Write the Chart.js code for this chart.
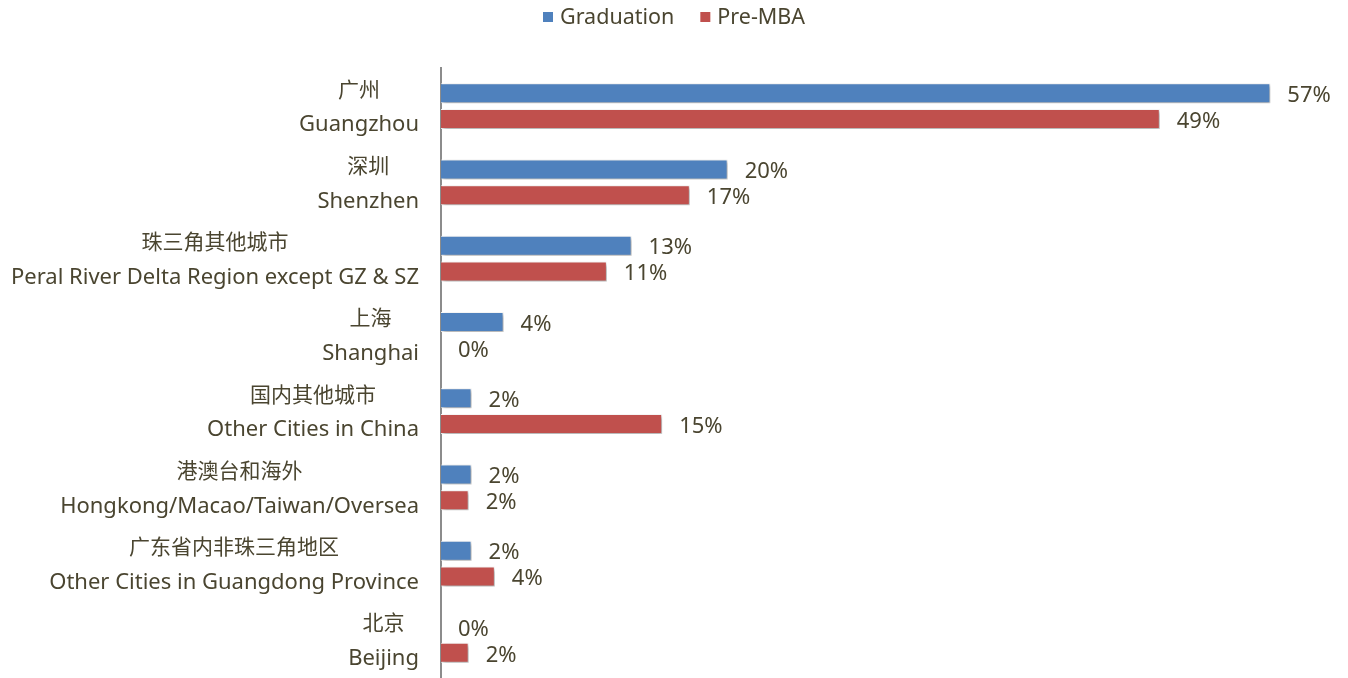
<!DOCTYPE html>
<html>
<head>
<meta charset="utf-8">
<script src="https://cdn.jsdelivr.net/npm/chart.js@4"></script>
<style>
    body { margin: 0; background: #fff; }
</style>
</head>
<body>
<canvas id="chart" width="1348" height="678"></canvas>
<script>
// categories: chinese line + english line
const catCn = ["广州", "深圳", "珠三角其他城市", "上海", "国内其他城市", "港澳台和海外", "广东省内非珠三角地区", "北京"];
const catEn = ["Guangzhou", "Shenzhen", "Peral River Delta Region except GZ & SZ", "Shanghai",
    "Other Cities in China", "Hongkong/Macao/Taiwan/Oversea", "Other Cities in Guangdong Province", "Beijing"];
const graduation = [57, 19.7, 13.1, 4.3, 2.1, 2.1, 2.1, 0];
const preMba = [49.4, 17.1, 11.4, 0, 15.2, 1.9, 3.7, 1.9];

const textColor = "#4a4530";
const latin = "'Noto Sans', 'Open Sans', sans-serif";
const cjk = "'Noto Sans CJK SC', sans-serif";

// shadow under bars
const barShadow = {
    id: "barShadow",
    beforeDatasetsDraw(chart) {
        const ctx = chart.ctx;
        ctx.save();
        ctx.shadowColor = "rgba(0,0,0,0.35)";
        ctx.shadowBlur = 4;
        ctx.shadowOffsetX = 2;
        ctx.shadowOffsetY = 2;
    },
    afterDatasetsDraw(chart) {
        chart.ctx.restore();
    }
};

// value labels, category labels and legend
const extras = {
    id: "extras",
    afterDraw(chart) {
        const ctx = chart.ctx;
        ctx.save();
        ctx.fillStyle = textColor;
        ctx.textBaseline = "middle";

        // value labels
        ctx.font = "22px " + latin;
        ctx.textAlign = "left";
        chart.data.datasets.forEach((ds, di) => {
            chart.getDatasetMeta(di).data.forEach((el, i) => {
                ctx.fillText(Math.round(ds.data[i]) + "%", el.x + 17, el.y + 2.5);
            });
        });

        // category labels
        const ys = chart.scales.y;
        const right = 419;
        catCn.forEach((cn, i) => {
            const y = ys.getPixelForValue(i);
            ctx.font = "22px " + cjk;
            const wCn = ctx.measureText(cn).width;
            ctx.font = "22px " + latin;
            const wEn = ctx.measureText(catEn[i]).width;
            const cx = right - Math.max(wCn, wEn) / 2;
            ctx.textAlign = "center";
            ctx.font = "21px " + cjk;
            ctx.fillText(cn, cx, y - 17.5);
            ctx.font = "22px " + latin;
            ctx.fillText(catEn[i], cx, y + 19);
        });

        // legend
        ctx.textAlign = "left";
        ctx.font = "21.5px " + latin;
        let x = 543;
        chart.data.datasets.forEach((ds) => {
            ctx.fillStyle = ds.backgroundColor;
            ctx.fillRect(x, 12, 10, 10);
            ctx.fillStyle = textColor;
            ctx.fillText(ds.label, x + 17, 17.5);
            x += 17 + ctx.measureText(ds.label).width + 26;
        });
        ctx.restore();
    }
};

new Chart(document.getElementById("chart"), {
    type: "bar",
    data: {
        labels: catEn,
        datasets: [{
            label: "Graduation",
            data: graduation,
            backgroundColor: "#4f81bd",
            borderColor: "rgba(255,255,255,0.9)",
            borderWidth: 1,
            categoryPercentage: 0.68,
            barPercentage: 0.77
        }, {
            label: "Pre-MBA",
            data: preMba,
            backgroundColor: "#c0504d",
            borderColor: "rgba(255,255,255,0.9)",
            borderWidth: 1,
            categoryPercentage: 0.68,
            barPercentage: 0.77
        }]
    },
    options: {
        indexAxis: "y",
        responsive: false,
        animation: false,
        layout: { padding: { top: 68, right: 34, bottom: 0, left: 0 } },
        plugins: {
            legend: { display: false },
            tooltip: { enabled: false }
        },
        scales: {
            x: { display: false, min: 0, max: 60 },
            y: {
                ticks: { display: false },
                grid: { display: false },
                border: { display: true, color: "#8c8c8c", width: 2 },
                afterFit(scale) { scale.width = 441; }
            }
        }
    },
    plugins: [barShadow, extras]
});
</script>
</body>
</html>
